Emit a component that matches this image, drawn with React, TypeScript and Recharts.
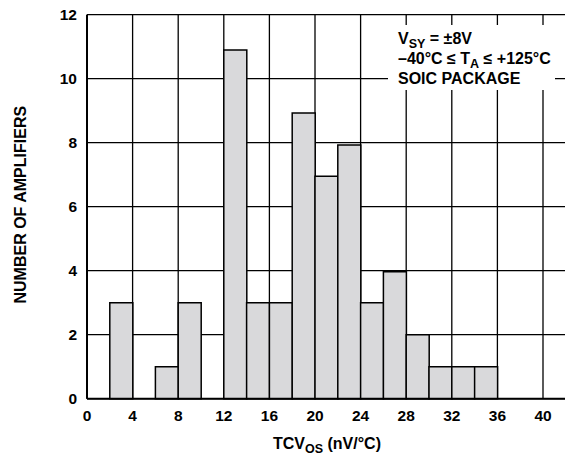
import React from 'react';
import { ComposedChart, Bar, XAxis, YAxis, CartesianGrid } from 'recharts';

// histogram bins, 2 nV/°C wide
const binStarts = [0, 2, 4, 6, 8, 10, 12, 14, 16, 18, 20, 22, 24, 26, 28, 30, 32, 34, 36, 38, 40, 42];
const amplifierCounts = [0, 3, 0, 1, 3, 0, 10.9, 3, 3, 8.93, 6.95, 7.93, 3, 3.97, 2, 1, 1, 1, 0, 0, 0, 0];
const xTicks = [0, 4, 8, 12, 16, 20, 24, 28, 32, 36, 40];
const yTicks = [0, 2, 4, 6, 8, 10, 12];
const binWidth = 2;

const FONT = '"Liberation Sans", Arial, Helvetica, sans-serif';

const data = binStarts.map((start, i) => ({
  x: start + binWidth / 2,
  count: amplifierCounts[i],
}));

const XTitle = (props: any) => {
  const { viewBox } = props;
  return (
    <text
      x={viewBox.x + 240}
      y={viewBox.y + 50}
      textAnchor="middle"
      fontFamily={FONT}
      fontWeight="bold"
      fontSize={16}
      fill="#000"
    >
      TCV
      <tspan dy={4} fontSize={12.5}>OS</tspan>
      <tspan dy={-4}> (nV/°C)</tspan>
    </text>
  );
};

const YTitle = (props: any) => {
  const { viewBox } = props;
  const x = viewBox.x + 13;
  const y = viewBox.y + viewBox.height / 2 - 2;
  return (
    <text
      x={x}
      y={y}
      transform={`rotate(-90, ${x}, ${y})`}
      textAnchor="middle"
      dominantBaseline="central"
      fontFamily={FONT}
      fontWeight="bold"
      fontSize={16}
      fill="#000"
    >
      NUMBER OF AMPLIFIERS
    </text>
  );
};

const tickStyle = { fontFamily: FONT, fontWeight: 'bold', fontSize: 15.5, fill: '#000' };
const subStyle: React.CSSProperties = { fontSize: 12.5, lineHeight: 0, verticalAlign: -4 };

const App: React.FC = () => {
  return (
    <div style={{ position: 'absolute', left: 0, top: 0, width: 565, height: 458, overflow: 'hidden', background: '#fff' }}>
      <ComposedChart
        width={600}
        height={458}
        data={data}
        barCategoryGap={0}
        barGap={0}
        margin={{ top: 14.7, right: 11.4, left: 8, bottom: 29.3 }}
      >
        <CartesianGrid stroke="#000" strokeWidth={1.3} />
        <XAxis
          dataKey="x"
          type="number"
          domain={[0, 44]}
          ticks={xTicks}
          interval={0}
          height={30}
          tickLine={false}
          tickMargin={5}
          axisLine={{ stroke: '#000', strokeWidth: 2 }}
          tick={tickStyle}
          label={<XTitle />}
        />
        <YAxis
          type="number"
          domain={[0, 12]}
          ticks={yTicks}
          interval={0}
          width={79}
          tickLine={false}
          tickMargin={4}
          axisLine={{ stroke: '#000', strokeWidth: 2 }}
          tick={tickStyle}
          label={<YTitle />}
        />
        <Bar
          dataKey="count"
          fill="#d9d9db"
          stroke="#000"
          strokeWidth={1.5}
          isAnimationActive={false}
        />
      </ComposedChart>
      <div
        style={{
          position: 'absolute',
          left: 388,
          top: 25,
          width: 167,
          height: 65,
          background: '#fff',
          boxSizing: 'border-box',
          padding: '4px 0 0 10px',
          fontFamily: FONT,
          fontWeight: 'bold',
          fontSize: 16,
          lineHeight: '20px',
          color: '#000',
          whiteSpace: 'nowrap',
        }}
      >
        <div>
          V<sub style={subStyle}>SY</sub> = ±8V
        </div>
        <div>
          –40°C ≤ T<sub style={subStyle}>A</sub> ≤ +125°C
        </div>
        <div>SOIC PACKAGE</div>
      </div>
    </div>
  );
};

export default App;
